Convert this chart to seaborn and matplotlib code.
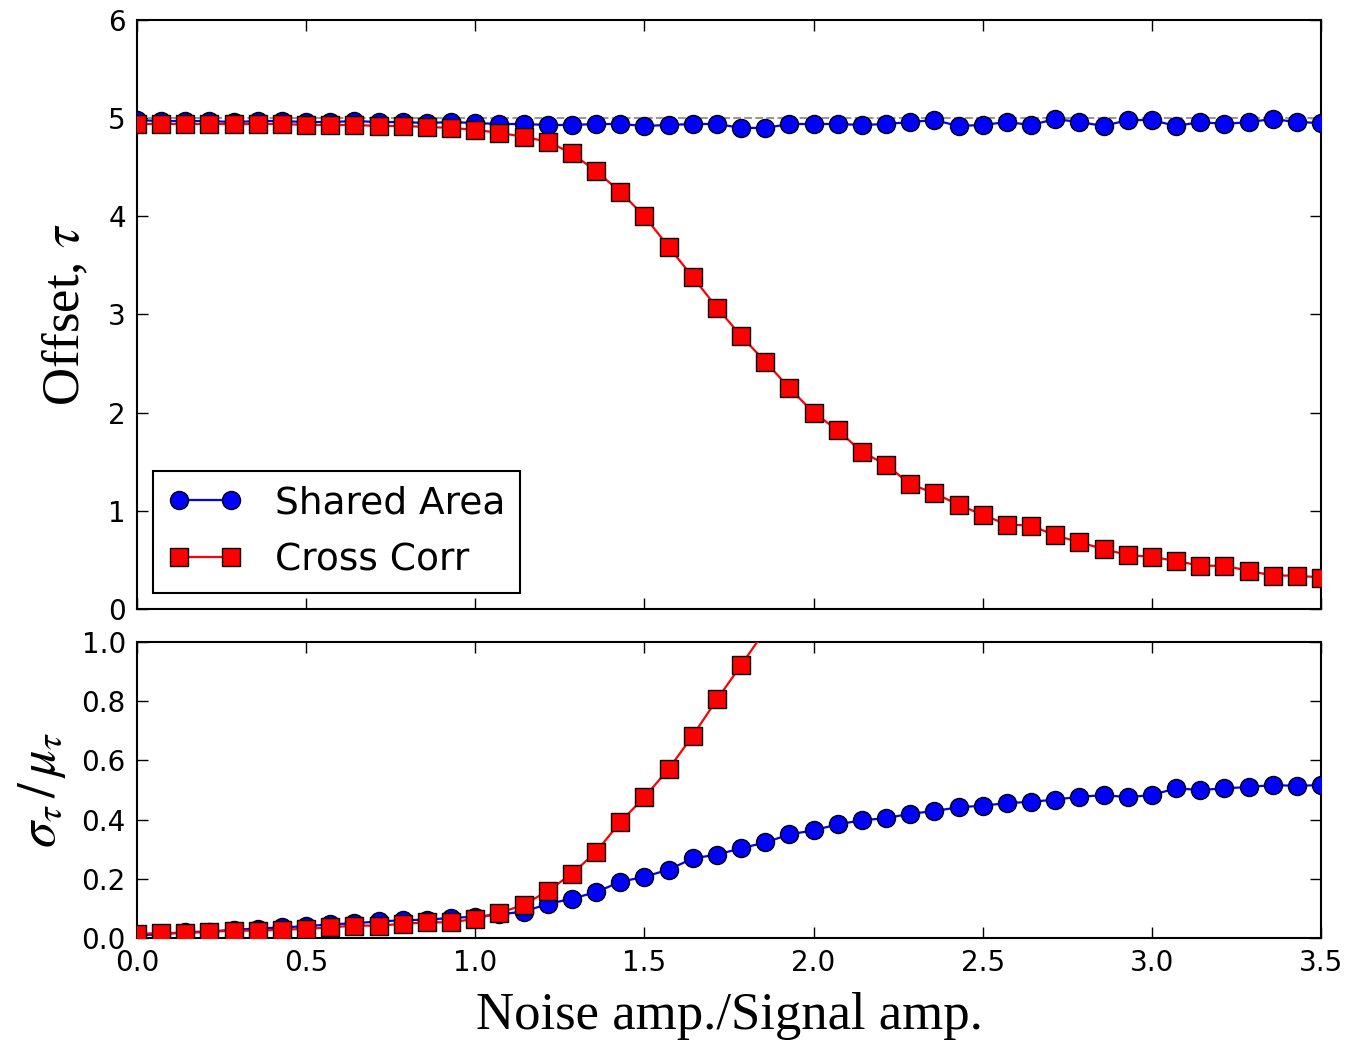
import numpy as np
import pandas as pd
import matplotlib
matplotlib.use("Agg")
import matplotlib.pyplot as plt
import seaborn as sns

# ============================
# DATA
# ============================

noise_ratio = np.linspace(0.0, 3.5, 50)

# top panel: recovered offset tau
offset_shared = [4.98, 4.97, 4.97, 4.97, 4.96, 4.97, 4.97, 4.96, 4.96, 4.97,
                 4.96, 4.96, 4.95, 4.96, 4.95, 4.94, 4.94, 4.93, 4.93, 4.94,
                 4.94, 4.92, 4.93, 4.94, 4.94, 4.90, 4.90, 4.94, 4.94, 4.94,
                 4.93, 4.94, 4.96, 4.98, 4.92, 4.93, 4.96, 4.93, 4.99, 4.96,
                 4.92, 4.98, 4.98, 4.92, 4.96, 4.94, 4.96, 4.99, 4.96, 4.95]
offset_xcorr = [4.94, 4.94, 4.94, 4.94, 4.94, 4.94, 4.94, 4.93, 4.93, 4.93,
                4.92, 4.92, 4.91, 4.90, 4.88, 4.85, 4.81, 4.76, 4.64, 4.46,
                4.25, 4.00, 3.69, 3.38, 3.07, 2.78, 2.52, 2.25, 2.00, 1.82,
                1.60, 1.47, 1.27, 1.18, 1.06, 0.96, 0.86, 0.85, 0.75, 0.68,
                0.61, 0.55, 0.53, 0.49, 0.44, 0.44, 0.39, 0.34, 0.34, 0.32]
true_offset = 5.0

# bottom panel: sigma_tau / mu_tau
spread_shared = [0.010, 0.012, 0.020, 0.022, 0.028, 0.032, 0.036, 0.040, 0.046, 0.050,
                 0.056, 0.060, 0.062, 0.068, 0.072, 0.080, 0.089, 0.115, 0.133, 0.155,
                 0.190, 0.207, 0.231, 0.269, 0.282, 0.303, 0.323, 0.350, 0.364, 0.384,
                 0.398, 0.405, 0.420, 0.429, 0.442, 0.447, 0.456, 0.460, 0.468, 0.477,
                 0.483, 0.476, 0.483, 0.506, 0.500, 0.506, 0.510, 0.517, 0.514, 0.517]
# cross corr leaves the panel after ~1.8, the rest is off the chart
spread_xcorr = [0.014, 0.017, 0.017, 0.021, 0.025, 0.025, 0.028, 0.031, 0.036, 0.042,
                0.042, 0.048, 0.053, 0.053, 0.065, 0.085, 0.112, 0.159, 0.217, 0.291,
                0.392, 0.476, 0.571, 0.684, 0.806, 0.922, 1.040] + [np.nan] * 23

x_ticks = [0.0, 0.5, 1.0, 1.5, 2.0, 2.5, 3.0, 3.5]
top_yticks = [0, 1, 2, 3, 4, 5, 6]
bottom_yticks = [0.0, 0.2, 0.4, 0.6, 0.8, 1.0]

series_names = ["Shared Area", "Cross Corr"]

# ============================
# STYLE
# ============================

sns.set_style("ticks")
plt.rcParams["font.family"] = ["DejaVu Sans"]
plt.rcParams["mathtext.fontset"] = "stix"
plt.rcParams["axes.linewidth"] = 1.5
plt.rcParams["text.color"] = "black"
plt.rcParams["axes.labelcolor"] = "black"
plt.rcParams["xtick.color"] = "black"
plt.rcParams["ytick.color"] = "black"

BLUE = "#0000ff"
RED = "#ff0000"
MS = 13
LW = 1.6

df_top = pd.DataFrame({"x": noise_ratio, "shared": offset_shared, "xcorr": offset_xcorr})
df_bot = pd.DataFrame({"x": noise_ratio, "shared": spread_shared, "xcorr": spread_xcorr})

fig = plt.figure(figsize=(13.67, 10.44), dpi=100)
ax_top = fig.add_axes([0.1002, 0.4167, 0.8662, 0.5642])
ax_bot = fig.add_axes([0.1002, 0.1015, 0.8662, 0.2835])

ax_top.axhline(true_offset, color="#999999", ls="--", lw=1.5, zorder=1)

sns.lineplot(data=df_top, x="x", y="shared", ax=ax_top, color=BLUE, lw=LW,
             marker="o", markersize=MS, markeredgecolor="black", markeredgewidth=1,
             label=series_names[0], estimator=None, zorder=3)
sns.lineplot(data=df_top, x="x", y="xcorr", ax=ax_top, color=RED, lw=LW,
             marker="s", markersize=MS, markeredgecolor="black", markeredgewidth=1,
             label=series_names[1], estimator=None, zorder=4)

sns.lineplot(data=df_bot, x="x", y="shared", ax=ax_bot, color=BLUE, lw=LW,
             marker="o", markersize=MS, markeredgecolor="black", markeredgewidth=1,
             estimator=None, zorder=3, legend=False)
sns.lineplot(data=df_bot.dropna(), x="x", y="xcorr", ax=ax_bot, color=RED, lw=LW,
             marker="s", markersize=MS, markeredgecolor="black", markeredgewidth=1,
             estimator=None, zorder=4, legend=False)

serif = ["Liberation Serif", "DejaVu Serif"]

for ax in (ax_top, ax_bot):
    ax.set_xlim(0, 3.5)
    ax.set_xticks(x_ticks)
    ax.tick_params(direction="in", length=8, width=1, top=True, right=True,
                   labelsize=20, pad=8, colors="black")
    for sp in ax.spines.values():
        sp.set_visible(True)
        sp.set_color("black")

ax_top.set_ylim(0, 6)
ax_top.set_yticks(top_yticks)
ax_top.set_yticklabels([str(t) for t in top_yticks])
ax_top.set_xticklabels([])
ax_top.set_xlabel("")
ax_top.set_ylabel(r"Offset, $\tau$", fontsize=38, family=serif, labelpad=13)

ax_bot.set_ylim(0, 1.0)
ax_bot.set_yticks(bottom_yticks)
ax_bot.set_yticklabels([f"{t:.1f}" for t in bottom_yticks])
ax_bot.set_xticklabels([f"{t:.1f}" for t in x_ticks])
ax_bot.set_xlabel("Noise amp./Signal amp.", fontsize=38, family=serif, labelpad=11)
ax_bot.set_ylabel(r"$\sigma_\tau\,/\,\mu_\tau$", fontsize=38, family=serif, labelpad=10)

leg = ax_top.legend(loc="lower left", numpoints=2, fontsize=27, fancybox=False,
                    edgecolor="black", framealpha=1, borderpad=0.4,
                    handlelength=2.0, handletextpad=0.85, labelspacing=0.55,
                    borderaxespad=0.42)
leg.get_frame().set_linewidth(1.5)

fig.savefig("out.png", dpi=100)
